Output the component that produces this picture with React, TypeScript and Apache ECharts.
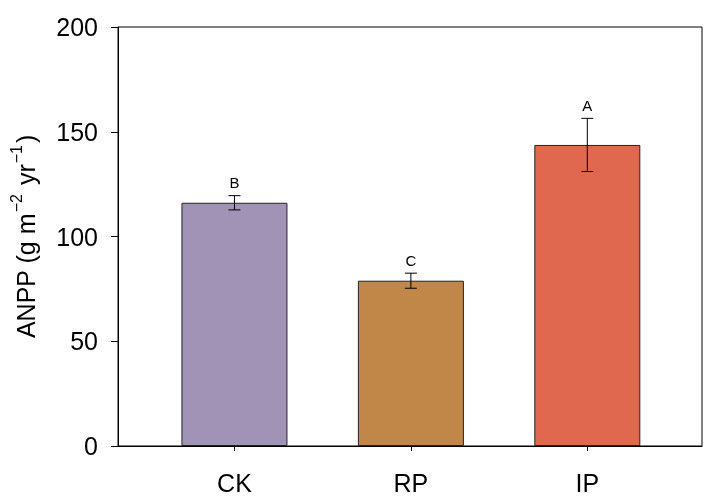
import React, { useEffect, useRef } from "react";
import * as echarts from "echarts";

const categories = ["CK", "RP", "IP"];
const means = [116.1, 78.9, 143.7];
const errors = [3.4, 3.6, 12.7];
const letters = ["B", "C", "A"];
const colors = ["#A093B6", "#C08748", "#E0684E"];
const yTicks = [0, 50, 100, 150, 200];

export default function App() {
  const ref = useRef<HTMLDivElement>(null);
  useEffect(() => {
    if (!ref.current) return;
    const chart = echarts.init(ref.current, undefined, { renderer: "svg" });
    const font = "'Liberation Sans', Arial, sans-serif";
    const positions = categories.map((_, i) => i + 1);
    chart.setOption({
      animation: false,
      grid: {
        left: 118,
        right: 14,
        top: 27,
        bottom: 50,
        show: true,
        borderColor: "#000",
        borderWidth: 1,
        backgroundColor: "transparent",
      },
      xAxis: {
        type: "value",
        min: 0.34,
        max: 3.65,
        splitLine: { show: false },
        axisLine: { show: true, lineStyle: { color: "#000", width: 1 } },
        axisTick: { show: true, customValues: positions, length: 5, inside: false, lineStyle: { color: "#000" } },
        axisLabel: {
          customValues: positions,
          formatter: (v: number) => categories[Math.round(v) - 1] ?? "",
          fontSize: 25,
          color: "#000",
          fontFamily: font,
          margin: 24,
        },
      },
      yAxis: {
        type: "value",
        min: yTicks[0],
        max: yTicks[yTicks.length - 1],
        interval: 50,
        splitLine: { show: false },
        axisLine: { show: true, lineStyle: { color: "#000", width: 1 } },
        axisTick: { show: true, length: 7, inside: false, lineStyle: { color: "#000" } },
        axisLabel: { fontSize: 25, color: "#000", fontFamily: font, margin: 20 },
        name: "{a|ANPP (g m}{s|−2}{a| yr}{s|−1}{a|)}",
        nameLocation: "middle",
        nameGap: 80,
        nameRotate: 90,
        nameTextStyle: {
          fontFamily: font,
          rich: {
            a: { fontSize: 25, color: "#000", fontFamily: font, lineHeight: 30, verticalAlign: "bottom" },
            s: { fontSize: 16, color: "#000", fontFamily: font, lineHeight: 30, verticalAlign: "top", padding: [0, 2, 0, 1] },
          },
        },
      },
      series: [
        {
          type: "bar",
          barWidth: 106,
          data: positions.map((p, i) => ({
            value: [p, means[i]],
            itemStyle: { color: colors[i], borderColor: "#222", borderWidth: 1 },
          })),
          z: 2,
        },
        {
          type: "custom",
          z: 5,
          data: positions.map((p, i) => [p, means[i], errors[i], i]),
          renderItem: (params: any, api: any) => {
            const x = api.value(0);
            const m = api.value(1);
            const e = api.value(2);
            const idx = api.value(3);
            const top = api.coord([x, m + e]);
            const bot = api.coord([x, m - e]);
            const cap = 6;
            return {
              type: "group",
              children: [
                { type: "line", shape: { x1: top[0], y1: top[1], x2: bot[0], y2: bot[1] }, style: { stroke: "#000", lineWidth: 1 } },
                { type: "line", shape: { x1: top[0] - cap, y1: top[1], x2: top[0] + cap, y2: top[1] }, style: { stroke: "#000", lineWidth: 1 } },
                { type: "line", shape: { x1: bot[0] - cap, y1: bot[1], x2: bot[0] + cap, y2: bot[1] }, style: { stroke: "#000", lineWidth: 1 } },
                {
                  type: "text",
                  x: top[0],
                  y: top[1] - 13,
                  style: {
                    text: letters[idx],
                    fontSize: 15,
                    fontFamily: font,
                    fill: "#000",
                    align: "center",
                    verticalAlign: "middle",
                  },
                },
              ],
            };
          },
        },
      ],
    });
    return () => chart.dispose();
  }, []);
  return <div ref={ref} style={{ position: "fixed", left: 0, top: 0, width: 716, height: 496 }} />;
}
